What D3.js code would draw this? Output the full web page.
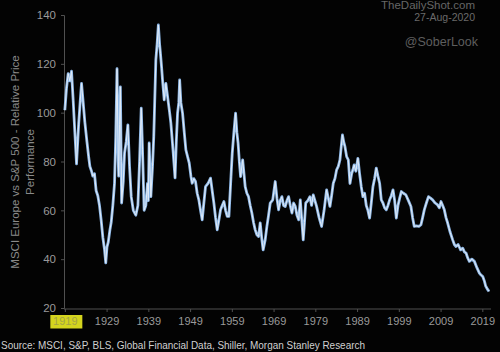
<!DOCTYPE html>
<html>
<head>
<meta charset="utf-8">
<script src="https://cdn.jsdelivr.net/npm/d3@7"></script>
<style>
  body { margin: 0; background: #030303; }
  svg { display: block; font-family: "Liberation Sans", Arial, sans-serif; }
</style>
</head>
<body>
<svg id="chart" width="500" height="352"></svg>
<script>
// MSCI Europe vs S&P 500 relative price performance
const years = [
  1919.0, 1919.4, 1919.8, 1920.2, 1920.6, 1921.0, 1921.4, 1921.8, 1922.3, 1922.7,
  1923.0, 1923.4, 1923.8, 1924.3, 1924.7, 1925.0, 1925.4, 1925.7, 1926.1, 1926.5,
  1926.9, 1927.3, 1927.7, 1928.1, 1928.5, 1928.8, 1929.1, 1929.4, 1929.8, 1930.1,
  1930.5, 1930.9, 1931.2, 1931.5, 1931.8, 1931.9, 1932.1, 1932.3, 1932.5, 1932.6,
  1933.0, 1933.3, 1933.7, 1934.1, 1934.5, 1934.9, 1935.4, 1936.0, 1936.5, 1936.9,
  1937.3, 1937.6, 1938.0, 1938.4, 1938.8, 1939.0, 1939.2, 1939.6, 1940.0, 1940.3,
  1940.8, 1941.1, 1941.4, 1941.7, 1941.9, 1942.2, 1942.4, 1942.8, 1943.2, 1943.5,
  1943.8, 1944.1, 1944.4, 1944.9, 1945.4, 1945.7, 1946.0, 1946.3, 1946.5, 1946.8,
  1947.2, 1947.6, 1948.0, 1948.4, 1948.8, 1949.2, 1949.5, 1949.9, 1950.3, 1950.7,
  1951.1, 1951.5, 1951.9, 1952.3, 1952.7, 1953.3, 1953.9, 1954.3, 1954.7, 1955.1,
  1955.5, 1955.9, 1956.3, 1956.7, 1957.1, 1957.5, 1957.9, 1958.3, 1958.8, 1959.1,
  1959.5, 1959.9, 1960.2, 1960.5, 1960.8, 1961.1, 1961.6, 1962.2, 1962.6, 1963.0,
  1963.4, 1963.8, 1964.2, 1964.6, 1965.0, 1965.4, 1965.8, 1966.2, 1966.5, 1967.0,
  1967.4, 1967.8, 1968.2, 1968.8, 1969.4, 1969.8, 1970.2, 1970.6, 1971.0, 1971.4,
  1971.8, 1972.2, 1972.6, 1973.0, 1973.4, 1973.8, 1974.2, 1974.6, 1975.0, 1975.4,
  1975.8, 1976.1, 1976.4, 1976.7, 1977.2, 1977.7, 1978.1, 1978.5, 1978.9, 1979.3,
  1979.9, 1980.5, 1981.1, 1981.7, 1982.1, 1982.5, 1982.9, 1983.3, 1983.7, 1984.1,
  1984.5, 1984.9, 1985.2, 1985.5, 1985.8, 1986.1, 1986.5, 1986.9, 1987.3, 1987.7,
  1988.0, 1988.3, 1988.7, 1989.2, 1989.6, 1990.0, 1990.4, 1990.8, 1991.2, 1991.6,
  1992.0, 1992.4, 1992.8, 1993.2, 1993.6, 1994.0, 1994.4, 1994.8, 1995.2, 1995.6,
  1996.0, 1996.4, 1996.8, 1997.2, 1997.6, 1998.0, 1998.4, 1998.8, 1999.2, 1999.6,
  2000.1, 2000.7, 2001.3, 2001.9, 2002.3, 2002.7, 2003.2, 2003.8, 2004.3, 2004.7,
  2005.1, 2005.6, 2006.1, 2006.6, 2007.1, 2007.7, 2008.3, 2008.7, 2009.1, 2009.5,
  2009.9, 2010.3, 2010.7, 2011.3, 2011.9, 2012.3, 2012.7, 2013.2, 2013.8, 2014.3,
  2014.7, 2015.1, 2015.5, 2015.9, 2016.5, 2017.1, 2017.7, 2018.3, 2018.7, 2019.1,
  2019.5, 2019.8, 2020.3, 2020.6
];
const values = [
  101, 110, 116, 113, 117, 105, 92, 79, 95, 105,
  112, 104, 96, 88, 82, 78, 76, 74, 75, 68,
  66, 62, 56, 49, 44, 38.5, 45, 47, 52, 55,
  62, 71, 90, 118, 80, 74, 95, 110.6, 80, 63,
  72, 83.5, 88, 95, 78, 65.6, 60, 58, 62, 80,
  101.8, 85, 60, 62, 71, 64, 87.6, 65.6, 78, 90.2,
  121.6, 128, 135.9, 128, 124.3, 118, 113.4, 105.2, 112, 108,
  104, 100, 95.7, 85, 73.3, 88, 99.8, 104, 113.4, 104,
  99.8, 92, 84.7, 82, 79.3, 74, 71.1, 73, 71.8, 67,
  64.3, 60, 56.1, 63, 69.7, 71, 73.2, 68, 63, 57,
  52, 56, 60.2, 62, 63.6, 60, 57.5, 57.5, 73.8, 83.4,
  92, 99.8, 92, 87.5, 80, 73.8, 80.7, 69.7, 67, 65.6,
  62, 58.9, 55, 52, 50, 49.3, 54.9, 48, 43.8, 48,
  53.4, 58, 63, 64.3, 71.8, 65, 60.2, 64, 65.6, 62,
  61.6, 64, 65.6, 62, 58.9, 63, 61.6, 58, 56.1, 64.3,
  55, 47.9, 55, 63, 64, 65.6, 62, 66.3, 64, 61.6,
  57, 53.4, 60, 68.4, 65, 61.6, 66, 71.1, 73, 76.6,
  78, 80.7, 86, 90.9, 88, 86.1, 82, 80.7, 71, 75,
  76.6, 78.6, 76, 81.3, 75, 69.7, 65.6, 67, 62, 60,
  56.8, 63, 69.7, 73, 77.3, 74, 71.1, 64.3, 63, 61,
  60.2, 62, 64.3, 66, 68.4, 64, 56.8, 62, 65, 67.7,
  67, 66.3, 64, 61.6, 57, 53.4, 53.6, 53.4, 54.1, 57,
  60.2, 63, 65.6, 65, 64.3, 63, 62.2, 61, 63.6, 62,
  60.2, 57, 54.8, 51, 47.9, 46, 45.2, 46, 43.8, 44.5,
  43, 42.5, 40.5, 39.1, 40, 39.1, 36.5, 34.3, 33.5, 32.9,
  31, 29, 27.5, 26.8
];
const yTicks = [20, 40, 60, 80, 100, 120, 140];
const xTicks = [1919, 1929, 1939, 1949, 1959, 1969, 1979, 1989, 1999, 2009, 2019];
const highlightYear = 1919;

const svg = d3.select('#chart');

const plotLeft = 64, plotRight = 491, plotTop = 15, plotBottom = 309;

const xScale = d3.scaleLinear()
  .domain([1918.8, 2020.6])
  .range([plotLeft, 489]);

const yScale = d3.scaleLinear()
  .domain([20, 140])
  .range([plotBottom - 1, plotTop]);

// y axis
svg.append('g')
  .attr('transform', `translate(${plotLeft}, 0)`)
  .call(d3.axisLeft(yScale).tickValues(yTicks).tickSize(3).tickPadding(5));

// x axis
const xAxis = svg.append('g')
  .attr('transform', `translate(0, ${plotBottom})`)
  .call(d3.axisBottom(xScale).tickValues(xTicks).tickFormat(d3.format('d')).tickSize(3).tickPadding(5));

xAxis.select('.domain').attr('d', `M${plotLeft},0H${plotRight}`);

svg.selectAll('.domain, .tick line').attr('stroke', '#505050');
svg.selectAll('.tick text')
  .attr('fill', '#9a9a9a')
  .attr('font-size', 11.5);
xAxis.selectAll('.tick text').attr('font-size', 11);

// yellow highlight behind first year label
const hl = xAxis.selectAll('.tick').filter((d) => d === highlightYear);
hl.insert('rect', 'text')
  .attr('x', -15)
  .attr('y', 6)
  .attr('width', 32)
  .attr('height', 13.5)
  .attr('fill', '#d4d41e');
hl.select('text').attr('fill', '#a3a347');

// y axis title
svg.append('text')
  .attr('transform', 'translate(19, 162) rotate(-90)')
  .attr('text-anchor', 'middle')
  .attr('fill', '#8a8a8a')
  .attr('font-size', 11.5)
  .text('MSCI Europe vs S&P 500 - Relative Price');

svg.append('text')
  .attr('transform', 'translate(34, 162) rotate(-90)')
  .attr('text-anchor', 'middle')
  .attr('fill', '#8a8a8a')
  .attr('font-size', 11.5)
  .text('Performance');

// series line
const data = years.map((y, i) => ({ year: y, value: values[i] }));
const line = d3.line()
  .x((d) => xScale(d.year))
  .y((d) => yScale(d.value));

svg.append('path')
  .attr('d', line(data))
  .attr('fill', 'none')
  .attr('stroke', '#8fb8e6')
  .attr('stroke-width', 2.8)
  .attr('stroke-linejoin', 'round');

svg.append('path')
  .attr('d', line(data))
  .attr('fill', 'none')
  .attr('stroke', '#e2ecf8')
  .attr('stroke-width', 1)
  .attr('stroke-linejoin', 'round');

// credits
svg.append('text')
  .attr('x', 475).attr('y', 9)
  .attr('text-anchor', 'end')
  .attr('fill', '#666')
  .attr('font-size', 11.5)
  .text('TheDailyShot.com');

svg.append('text')
  .attr('x', 475).attr('y', 21)
  .attr('text-anchor', 'end')
  .attr('fill', '#6a6a6a')
  .attr('font-size', 10.5)
  .text('27-Aug-2020');

svg.append('text')
  .attr('x', 478).attr('y', 46)
  .attr('text-anchor', 'end')
  .attr('fill', '#5e5e5e')
  .attr('font-size', 12.5)
  .text('@SoberLook');

svg.append('text')
  .attr('x', 1).attr('y', 349)
  .attr('fill', '#d0d0d0')
  .attr('font-size', 11)
  .attr('textLength', 364)
  .attr('lengthAdjust', 'spacingAndGlyphs')
  .text('Source: MSCI, S&P, BLS, Global Financial Data, Shiller, Morgan Stanley Research');
</script>
</body>
</html>
